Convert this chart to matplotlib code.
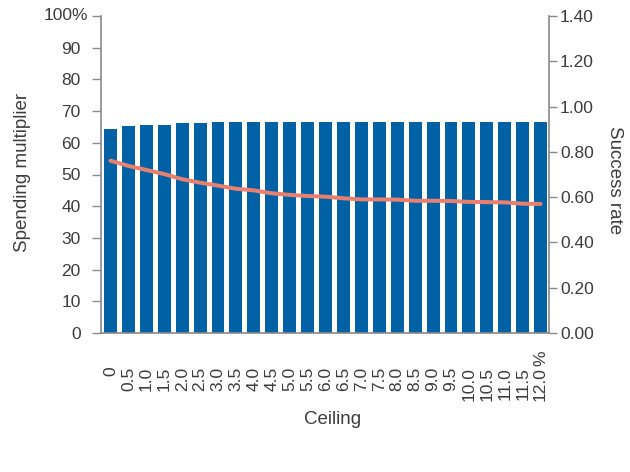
import matplotlib
matplotlib.use("Agg")
import matplotlib.pyplot as plt
import numpy as np

ceiling = ["0", "0.5", "1.0", "1.5", "2.0", "2.5", "3.0", "3.5", "4.0", "4.5", "5.0",
           "5.5", "6.0", "6.5", "7.0", "7.5", "8.0", "8.5", "9.0", "9.5", "10.0",
           "10.5", "11.0", "11.5", "12.0"]
spending = [64.5, 65.3, 65.7, 65.7, 66.3, 66.3, 66.6, 66.6, 66.6, 66.6, 66.6,
            66.6, 66.6, 66.6, 66.6, 66.6, 66.6, 66.6, 66.6, 66.6, 66.6,
            66.6, 66.6, 66.6, 66.6]
success = [0.761, 0.738, 0.720, 0.702, 0.679, 0.664, 0.651, 0.637, 0.630, 0.617, 0.610,
           0.605, 0.602, 0.595, 0.590, 0.590, 0.589, 0.584, 0.584, 0.583, 0.579,
           0.578, 0.577, 0.571, 0.570]
left_ticks = [0, 10, 20, 30, 40, 50, 60, 70, 80, 90, 100]
left_labels = ["0", "10", "20", "30", "40", "50", "60", "70", "80", "90", ""]
right_ticks = [0.0, 0.2, 0.4, 0.6, 0.8, 1.0, 1.2, 1.4]

plt.rcParams['font.family'] = ['Liberation Sans', 'DejaVu Sans']
TXT = '#3c3c3c'
SP = '#8a8a8a'
BAR = '#0062a5'
LINE = '#e8806f'
FS = 12.5
FL = 13.5

fig = plt.figure(figsize=(6.3, 4.72), dpi=100)
ax = fig.add_axes([101/630, 1-333/472, (549-101)/630, (333-16)/472])
x = np.arange(len(ceiling))
ax.bar(x, spending, width=0.72, color=BAR, zorder=2)
ax.set_xlim(-0.53, 24.47)
ax.set_ylim(0, 100)
ax.set_yticks(left_ticks)
ax.set_yticklabels(left_labels)
ax.set_xticks(x)
ax.set_xticklabels(ceiling, rotation=90, va='top', ha='center')
ax.tick_params(axis='x', length=0, pad=24.3, labelsize=FS, colors=TXT)
ax.tick_params(axis='y', length=6.6, width=1, color=SP, pad=7.9, labelsize=FS, labelcolor=TXT)
for s in ['top', 'right']:
    ax.spines[s].set_visible(False)
for s in ['left', 'bottom']:
    ax.spines[s].set_color(SP)
    ax.spines[s].set_linewidth(1.2)
ax.annotate('100%', xy=(0, 100), xycoords=('axes fraction', 'data'),
            xytext=(-9.0, 0), textcoords='offset points', ha='right', va='center',
            fontsize=FS, color=TXT)
ax.annotate('%', xy=(24, 0), xycoords=('data', 'axes fraction'),
            xytext=(0, -23.8), textcoords='offset points', ha='center', va='bottom',
            rotation=90, fontsize=FS, color=TXT)
ax.set_ylabel('Spending multiplier', fontsize=FL, color=TXT)

ax2 = ax.twinx()
ax2.plot(x, success, color=LINE, lw=2.9, solid_capstyle='round', zorder=3)
ax2.set_ylim(0, 1.4)
ax2.set_yticks(right_ticks)
ax2.set_yticklabels(['%.2f' % v for v in right_ticks])
ax2.tick_params(axis='y', length=5.8, width=1, color=SP, pad=2.2, labelsize=FS, labelcolor=TXT)
for s in ['top', 'left', 'bottom']:
    ax2.spines[s].set_visible(False)
ax2.spines['right'].set_color(SP)
ax2.spines['right'].set_linewidth(1.2)
ax2.set_ylabel('Success rate', fontsize=FL, color=TXT, rotation=270, va='center')
ax2.yaxis.set_label_coords((615-101)/448, 1-(180-16)/317)
ax.yaxis.set_label_coords((22-101)/448, 1-(172-16)/317)
ax.yaxis.label.set_va('center')

fig.text(333/630, 1-420/472, 'Ceiling', ha='center', va='center', fontsize=FL, color=TXT)

fig.savefig('out.png', dpi=100)
